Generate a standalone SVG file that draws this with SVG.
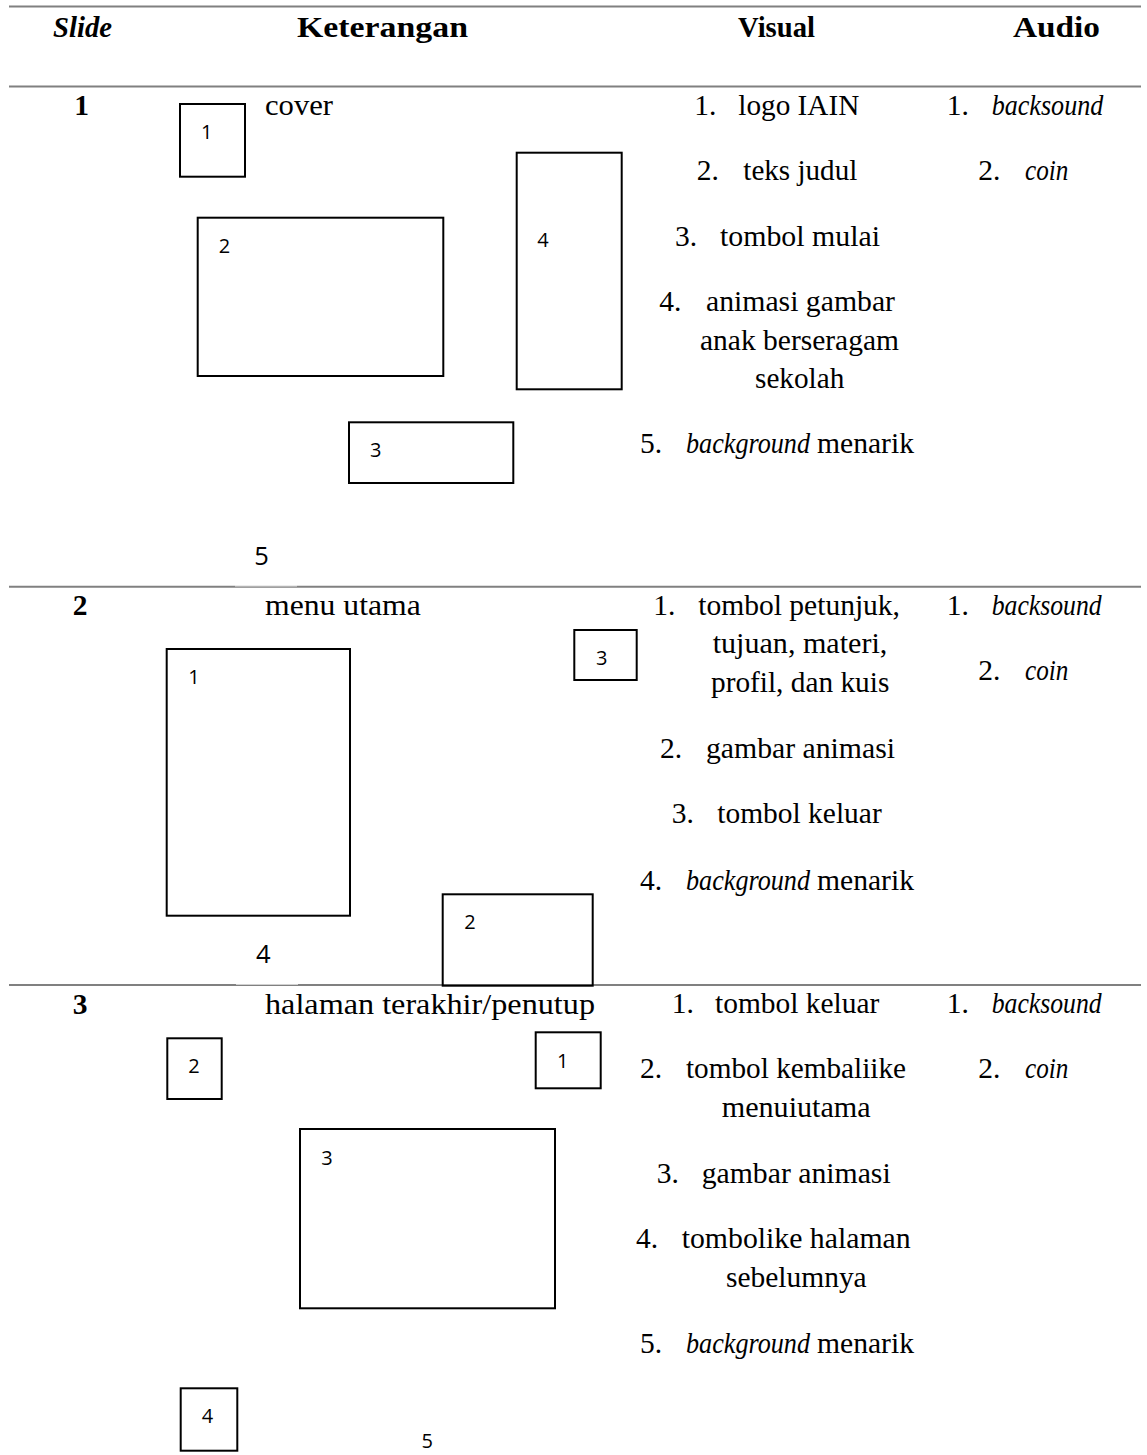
<svg xmlns="http://www.w3.org/2000/svg" width="1147" height="1455" viewBox="0 0 1147 1455">
<style>
.t{font-family:"Liberation Serif","Times New Roman",serif;font-size:29.5px;fill:#000}
.b{font-weight:bold}
.i{font-style:italic}
.n{font-family:"Open Sans","Liberation Sans",sans-serif;font-size:20px;fill:#000;text-anchor:middle}
.nb{font-size:25.5px}
.box{fill:none;stroke:#000;stroke-width:2}
.rule{stroke:#808080;stroke-width:2}
</style>
<rect width="1147" height="1455" fill="#fff"/>
<g id="rules">
<line class="rule" x1="9" y1="6.5" x2="1141" y2="6.5"/>
<line class="rule" x1="9" y1="86.5" x2="1141" y2="86.5"/>
<line class="rule" x1="9" y1="586.7" x2="1141" y2="586.7"/>
<line x1="235" y1="586" x2="297" y2="586" stroke="#fff" stroke-width="0.8"/>
<line class="rule" x1="9" y1="985" x2="1141" y2="985"/>
<line x1="236" y1="984.3" x2="298" y2="984.3" stroke="#fff" stroke-width="0.8"/>
</g>
<g id="header">
<text class="t b i" x="53" y="37" textLength="59" lengthAdjust="spacingAndGlyphs">Slide</text>
<text class="t b" x="297" y="37" textLength="171" lengthAdjust="spacingAndGlyphs">Keterangan</text>
<text class="t b" x="738" y="37" textLength="77" lengthAdjust="spacingAndGlyphs">Visual</text>
<text class="t b" x="1013" y="37" textLength="87" lengthAdjust="spacingAndGlyphs">Audio</text>
</g>
<g id="slide1">
<text class="t b" x="81.5" y="115" text-anchor="middle">1</text>
<text class="t" x="265" y="114.5" textLength="68" lengthAdjust="spacingAndGlyphs">cover</text>
<g id="s1-box1"><rect class="box" x="180" y="104" width="65" height="72.7"/><text class="n" x="206.7" y="139.3">1</text></g>
<g id="s1-box2"><rect class="box" x="197.7" y="217.7" width="245.6" height="158.3"/><text class="n" x="224.5" y="252.7">2</text></g>
<g id="s1-box4"><rect class="box" x="516.7" y="152.7" width="105" height="236.6"/><text class="n" x="543" y="247.3">4</text></g>
<g id="s1-box3"><rect class="box" x="349" y="422.3" width="164.3" height="60.7"/><text class="n" x="375.7" y="456.7">3</text></g>
<text class="n nb" x="261.5" y="565">5</text>
<g id="s1-visual">
<text class="t" x="694.3" y="115">1.</text><text class="t" x="738.3" y="115" textLength="121" lengthAdjust="spacingAndGlyphs">logo IAIN</text>
<text class="t" x="696.7" y="180">2.</text><text class="t" x="743.3" y="180" textLength="114" lengthAdjust="spacingAndGlyphs">teks judul</text>
<text class="t" x="675" y="245.7">3.</text><text class="t" x="720" y="245.7" textLength="160" lengthAdjust="spacingAndGlyphs">tombol mulai</text>
<text class="t" x="659.3" y="311">4.</text><text class="t" x="706" y="311" textLength="189" lengthAdjust="spacingAndGlyphs">animasi gambar</text>
<text class="t" x="700" y="350" textLength="199" lengthAdjust="spacingAndGlyphs">anak berseragam</text>
<text class="t" x="755" y="388.3" textLength="89.3" lengthAdjust="spacingAndGlyphs">sekolah</text>
<text class="t" x="640" y="453.3">5.</text><text class="t i" x="686" y="453.3" textLength="124" lengthAdjust="spacingAndGlyphs">background</text><text class="t" x="817" y="453.3" textLength="97" lengthAdjust="spacingAndGlyphs">menarik</text>
</g>
<g id="s1-audio">
<text class="t" x="946.7" y="115">1.</text><text class="t i" x="991.7" y="115" textLength="111.6" lengthAdjust="spacingAndGlyphs">backsound</text>
<text class="t" x="978.3" y="180">2.</text><text class="t i" x="1025" y="180" textLength="43.3" lengthAdjust="spacingAndGlyphs">coin</text>
</g>
</g>
<g id="slide2">
<text class="t b" x="80" y="615" text-anchor="middle">2</text>
<text class="t" x="265" y="615" textLength="155.7" lengthAdjust="spacingAndGlyphs">menu utama</text>
<g id="s2-box1"><rect class="box" x="166.7" y="649" width="183.3" height="266.7"/><text class="n" x="194" y="684">1</text></g>
<g id="s2-box3"><rect class="box" x="574.3" y="630" width="62.4" height="50"/><text class="n" x="601.7" y="665">3</text></g>
<g id="s2-box2"><rect class="box" x="442.7" y="894.3" width="150" height="91.4"/><text class="n" x="470" y="929">2</text></g>
<text class="n nb" x="263.3" y="963.3">4</text>
<g id="s2-visual">
<text class="t" x="653.3" y="615">1.</text><text class="t" x="698.3" y="615" textLength="201.7" lengthAdjust="spacingAndGlyphs">tombol petunjuk,</text>
<text class="t" x="712.7" y="653.3" textLength="174.6" lengthAdjust="spacingAndGlyphs">tujuan, materi,</text>
<text class="t" x="711" y="691.7" textLength="178.3" lengthAdjust="spacingAndGlyphs">profil, dan kuis</text>
<text class="t" x="660" y="758.3">2.</text><text class="t" x="706" y="758.3" textLength="189" lengthAdjust="spacingAndGlyphs">gambar animasi</text>
<text class="t" x="671.7" y="823.3">3.</text><text class="t" x="717.3" y="823.3" textLength="164.4" lengthAdjust="spacingAndGlyphs">tombol keluar</text>
<text class="t" x="640" y="890">4.</text><text class="t i" x="686" y="890" textLength="124" lengthAdjust="spacingAndGlyphs">background</text><text class="t" x="817" y="890" textLength="97" lengthAdjust="spacingAndGlyphs">menarik</text>
</g>
<g id="s2-audio">
<text class="t" x="946.7" y="615">1.</text><text class="t i" x="991.7" y="615" textLength="110" lengthAdjust="spacingAndGlyphs">backsound</text>
<text class="t" x="978.3" y="680">2.</text><text class="t i" x="1025" y="680" textLength="43.3" lengthAdjust="spacingAndGlyphs">coin</text>
</g>
</g>
<g id="slide3">
<text class="t b" x="80" y="1013.5" text-anchor="middle">3</text>
<text class="t" x="265" y="1013.5" textLength="330" lengthAdjust="spacingAndGlyphs">halaman terakhir/penutup</text>
<g id="s3-box2"><rect class="box" x="167.3" y="1038.3" width="54.4" height="60.7"/><text class="n" x="194" y="1073.3">2</text></g>
<g id="s3-box1"><rect class="box" x="535.7" y="1032.3" width="65" height="56"/><text class="n" x="562.8" y="1067.7">1</text></g>
<g id="s3-box3"><rect class="box" x="300" y="1129" width="255" height="179.3"/><text class="n" x="327" y="1165">3</text></g>
<g id="s3-box4"><rect class="box" x="180.7" y="1388.3" width="56.6" height="62.4"/><text class="n" x="207.5" y="1423.3">4</text></g>
<text class="n" x="427.2" y="1448">5</text>
<g id="s3-visual">
<text class="t" x="671.7" y="1013">1.</text><text class="t" x="715" y="1013" textLength="164.4" lengthAdjust="spacingAndGlyphs">tombol keluar</text>
<text class="t" x="640" y="1078.3">2.</text><text class="t" x="686" y="1078.3" textLength="220" lengthAdjust="spacingAndGlyphs">tombol kembaliike</text>
<text class="t" x="721.7" y="1116.7" textLength="149" lengthAdjust="spacingAndGlyphs">menuiutama</text>
<text class="t" x="656.7" y="1183.3">3.</text><text class="t" x="701.7" y="1183.3" textLength="189" lengthAdjust="spacingAndGlyphs">gambar animasi</text>
<text class="t" x="636" y="1248.3">4.</text><text class="t" x="681.7" y="1248.3" textLength="229" lengthAdjust="spacingAndGlyphs">tombolike halaman</text>
<text class="t" x="726" y="1286.7" textLength="140.7" lengthAdjust="spacingAndGlyphs">sebelumnya</text>
<text class="t" x="640" y="1353">5.</text><text class="t i" x="686" y="1353" textLength="124" lengthAdjust="spacingAndGlyphs">background</text><text class="t" x="817" y="1353" textLength="97" lengthAdjust="spacingAndGlyphs">menarik</text>
</g>
<g id="s3-audio">
<text class="t" x="946.7" y="1013">1.</text><text class="t i" x="991.7" y="1013" textLength="110" lengthAdjust="spacingAndGlyphs">backsound</text>
<text class="t" x="978.3" y="1078.3">2.</text><text class="t i" x="1025" y="1078.3" textLength="43.3" lengthAdjust="spacingAndGlyphs">coin</text>
</g>
</g>
</svg>
